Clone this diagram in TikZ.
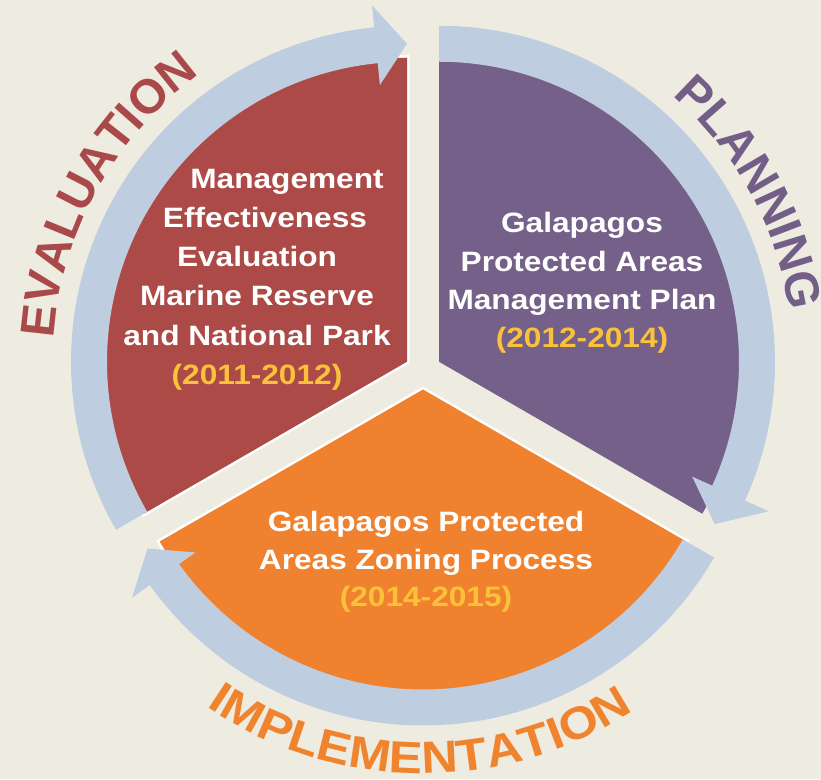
\documentclass[tikz,border=0pt]{standalone}
\usepackage{fontspec}
\setmainfont{Liberation Sans}
\newfontfamily\bodyfont{Liberation Sans}[FakeStretch=1.13]
\newfontfamily\arcfont{Liberation Sans}
\newfontfamily\arcwide{Liberation Sans}[FakeStretch=1.12]
\usetikzlibrary{decorations.text}
\definecolor{bgc}{HTML}{EEECE1}
\definecolor{redc}{HTML}{AC4A47}
\definecolor{purc}{HTML}{756089}
\definecolor{orac}{HTML}{F0822F}
\definecolor{bluec}{HTML}{BECDE0}
\definecolor{yelc}{HTML}{FAC23B}
\definecolor{evalc}{HTML}{A9494A}
\definecolor{planc}{HTML}{735E88}
\definecolor{implc}{HTML}{F0842E}
\tikzset{
  bodytext/.style={text=white, align=center, inner sep=0pt, font=\bodyfont\bfseries\fontsize{28}{38.4}\selectfont},
  bandfill/.style={fill=bluec},
  whiteedge/.style={draw=white, line width=5pt, line join=miter},
}
\begin{document}
\begin{tikzpicture}[x=1pt,y=1pt]
\fill[bgc] (0,0) rectangle (821,779);
\useasboundingbox (0,0) rectangle (821,779);
\coordinate (C) at (423,408);
\coordinate (R) at (407,417.25);
\coordinate (P) at (439,417.25);
\coordinate (O) at (423,389.5);
% sectors
\draw[whiteedge] (R) -- ++(90:304) arc[start angle=90,end angle=210,radius=304] -- cycle;
\fill[redc] (R) -- ++(90:304) arc[start angle=90,end angle=210,radius=304] -- cycle;
\draw[whiteedge] (O) -- ++(210:304) arc[start angle=210,end angle=330,radius=304] -- cycle;
\fill[orac] (O) -- ++(210:304) arc[start angle=210,end angle=330,radius=304] -- cycle;
\fill[purc] (P) -- ++(-30:304) arc[start angle=-30,end angle=90,radius=304] -- cycle;
% arrows
\begin{scope}[shift={(R)}]
\fill[bandfill] (210:300) arc[start angle=210,end angle=95.6,radius=300] -- (95.6:278) -- (90:318) -- (95.6:358) -- (95.6:336) arc[start angle=95.6,end angle=210,radius=336] -- cycle;
\end{scope}
\begin{scope}[shift={(P)}]
\fill[bandfill] (90:300) arc[start angle=90,end angle=-24.4,radius=300] -- (-24.4:278) -- (-30.5:320) -- (-24.4:362) -- (-24.4:336) arc[start angle=-24.4,end angle=90,radius=336] -- cycle;
\end{scope}
\begin{scope}[shift={(O)}]
\fill[bandfill] (-30:300) arc[start angle=-30,end angle=-144.4,radius=300] -- (-144.4:280) -- (-150:318) -- (-144.4:358) -- (-144.4:336) arc[start angle=-144.4,end angle=-30,radius=336] -- cycle;
\end{scope}
% curved labels
\path[decorate, decoration={text along path, text align=center,
  text={|\arcfont\bfseries\fontsize{48}{48}\selectfont\color{evalc}|EVALUATION}}]
  (R) ++(199:354) arc[start angle=199,end angle=103,radius=354];
\path[decorate, decoration={text along path, text align=center,
  text={|\arcfont\bfseries\fontsize{48}{48}\selectfont\color{planc}|PLANNING}}]
  (P) ++(74:354) arc[start angle=74,end angle=-17,radius=354];
\path[decorate, decoration={text along path, text align=center,
  text={|\arcwide\bfseries\fontsize{45}{45}\selectfont\color{implc}|IMPLEMENTATION}}]
  (O) ++(215:384) arc[start angle=215,end angle=324,radius=384];
% texts
\node[bodytext, font=\bodyfont\bfseries\fontsize{28}{39.2}\selectfont] (redtxt) at (257,499.5) {\hspace*{60pt}Management\\\hspace*{16pt}Effectiveness\\Evaluation\\Marine Reserve\hspace*{10pt}\\and National Park\\\textcolor{yelc}{(2011-2012)}};
\node[bodytext] (purtxt) at (582,496) {Galapagos\\Protected Areas\\Management Plan\\\textcolor{yelc}{(2012-2014)}};
\node[bodytext, font=\bodyfont\bfseries\fontsize{28}{37.5}\selectfont] (oratxt) at (426,217) {Galapagos Protected\\Areas Zoning Process\\\textcolor{yelc}{(2014-2015)}};
\end{tikzpicture}
\end{document}
